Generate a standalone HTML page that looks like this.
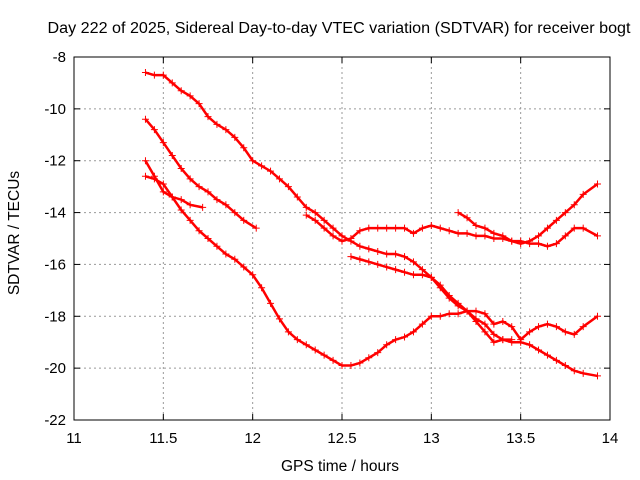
<!DOCTYPE html>
<html><head><meta charset="utf-8"><style>
body{margin:0;background:#fff;}
svg{display:block;font-family:"Liberation Sans",sans-serif;}
</style></head><body>
<svg id="chart" width="640" height="480">
<text x="339" y="33" font-size="15.5" text-anchor="middle" textLength="583" lengthAdjust="spacingAndGlyphs">Day 222 of 2025, Sidereal Day-to-day VTEC variation (SDTVAR) for receiver bogt</text>
<text x="340" y="471" font-size="15.5" text-anchor="middle">GPS time / hours</text>
<text x="19" y="233" font-size="15.5" text-anchor="middle" transform="rotate(-90 19 233)">SDTVAR / TECUs</text>
<g id="grid"></g><g id="axes"></g><g id="marks"></g>
<rect x="74" y="57" width="536" height="363" fill="none" stroke="#000"/>
</svg>
<script>
const xTicks=[11,11.5,12,12.5,13,13.5,14];
const yTicks=[-8,-10,-12,-14,-16,-18,-20,-22];
const traceA=[[11.4,-8.6],[11.45,-8.7],[11.5,-8.7],[11.55,-9.0],[11.6,-9.3],[11.65,-9.5],[11.7,-9.8],[11.75,-10.3],[11.8,-10.6],[11.85,-10.8],[11.9,-11.1],[11.95,-11.5],[12.0,-12.0],[12.05,-12.2],[12.1,-12.4],[12.15,-12.7],[12.2,-13.0],[12.25,-13.4],[12.3,-13.8],[12.35,-14.0],[12.4,-14.3],[12.45,-14.6],[12.5,-14.9],[12.55,-15.1],[12.6,-15.3],[12.65,-15.4],[12.7,-15.5],[12.75,-15.6],[12.8,-15.6],[12.85,-15.7],[12.9,-15.9],[12.95,-16.2],[13.0,-16.5],[13.05,-16.8],[13.1,-17.2],[13.15,-17.5],[13.2,-17.8],[13.25,-18.1],[13.3,-18.3],[13.35,-18.7],[13.4,-18.9],[13.45,-19.0],[13.5,-19.0],[13.55,-19.1],[13.6,-19.3],[13.65,-19.5],[13.7,-19.7],[13.75,-19.9],[13.8,-20.1],[13.85,-20.2],[13.93,-20.3]];
const traceB=[[11.4,-10.4],[11.45,-10.8],[11.5,-11.3],[11.55,-11.8],[11.6,-12.3],[11.65,-12.7],[11.7,-13.0],[11.75,-13.2],[11.8,-13.5],[11.85,-13.7],[11.9,-14.0],[11.95,-14.3],[12.02,-14.6]];
const traceC=[[11.4,-12.0],[11.45,-12.6],[11.5,-13.2],[11.55,-13.4],[11.6,-13.5],[11.65,-13.7],[11.72,-13.8]];
const traceD=[[11.4,-12.6],[11.45,-12.7],[11.5,-12.9],[11.55,-13.4],[11.6,-13.9],[11.65,-14.3],[11.7,-14.7],[11.75,-15.0],[11.8,-15.3],[11.85,-15.6],[11.9,-15.8],[11.95,-16.1],[12.0,-16.4],[12.05,-16.9],[12.1,-17.5],[12.15,-18.1],[12.2,-18.6],[12.25,-18.9],[12.3,-19.1],[12.35,-19.3],[12.4,-19.5],[12.45,-19.7],[12.5,-19.9],[12.55,-19.9],[12.6,-19.8],[12.65,-19.6],[12.7,-19.4],[12.75,-19.1],[12.8,-18.9],[12.85,-18.8],[12.9,-18.6],[12.95,-18.3],[13.0,-18.0],[13.05,-18.0],[13.1,-17.9],[13.15,-17.9],[13.2,-17.8],[13.25,-17.8],[13.3,-17.9],[13.35,-18.3],[13.4,-18.2],[13.45,-18.4],[13.5,-18.9],[13.55,-18.6],[13.6,-18.4],[13.65,-18.3],[13.7,-18.4],[13.75,-18.6],[13.8,-18.7],[13.85,-18.4],[13.93,-18.0]];
const traceE=[[12.3,-14.1],[12.35,-14.3],[12.4,-14.6],[12.45,-14.9],[12.5,-15.1],[12.55,-15.0],[12.6,-14.7],[12.65,-14.6],[12.7,-14.6],[12.75,-14.6],[12.8,-14.6],[12.85,-14.6],[12.9,-14.8],[12.95,-14.6],[13.0,-14.5],[13.05,-14.6],[13.1,-14.7],[13.15,-14.8],[13.2,-14.8],[13.25,-14.9],[13.3,-14.9],[13.35,-15.0],[13.4,-15.0],[13.45,-15.1],[13.5,-15.1],[13.55,-15.2],[13.6,-15.2],[13.65,-15.3],[13.7,-15.2],[13.75,-14.9],[13.8,-14.6],[13.85,-14.6],[13.93,-14.9]];
const traceF=[[13.15,-14.0],[13.2,-14.2],[13.25,-14.5],[13.3,-14.6],[13.35,-14.8],[13.4,-14.9],[13.45,-15.1],[13.5,-15.2],[13.55,-15.1],[13.6,-14.9],[13.65,-14.6],[13.7,-14.3],[13.75,-14.0],[13.8,-13.7],[13.85,-13.3],[13.93,-12.9]];
const traceG=[[12.55,-15.7],[12.6,-15.8],[12.65,-15.9],[12.7,-16.0],[12.75,-16.1],[12.8,-16.2],[12.85,-16.3],[12.9,-16.4],[12.95,-16.4],[13.0,-16.5],[13.05,-16.9],[13.1,-17.3],[13.15,-17.6],[13.2,-17.8],[13.25,-18.2],[13.3,-18.6],[13.35,-19.0],[13.4,-18.9],[13.45,-18.9]];
const series=[traceA,traceB,traceC,traceD,traceE,traceF,traceG];
const NS="http://www.w3.org/2000/svg";
const X=v=>74+(v-11)/3*536, Y=v=>57+(-8-v)/14*363;
function mk(t,a,p){const e=document.createElementNS(NS,t);for(const k in a)e.setAttribute(k,a[k]);p.appendChild(e);return e;}
const grid=document.getElementById('grid'),axes=document.getElementById('axes'),marks=document.getElementById('marks');
xTicks.forEach(t=>{const x=X(t);
 if(t>11&&t<14){const g=mk('line',{x1:x,x2:x,y1:57,y2:420,stroke:'#999','stroke-dasharray':'2,3'},grid);
 
 }
 mk('line',{x1:x,x2:x,y1:420,y2:414,stroke:'#000'},axes);mk('line',{x1:x,x2:x,y1:57,y2:63,stroke:'#000'},axes);
 const l=mk('text',{x:x,y:443,'font-size':15,'text-anchor':'middle'},axes);l.textContent=t;
 
 });
yTicks.forEach(t=>{const y=Y(t);
 if(t<-8&&t>-22){const g=mk('line',{x1:74,x2:610,y1:y,y2:y,stroke:'#999','stroke-dasharray':'2,3'},grid);
 
 }
 mk('line',{x1:74,x2:80,y1:y,y2:y,stroke:'#000'},axes);mk('line',{x1:610,x2:604,y1:y,y2:y,stroke:'#000'},axes);
 const l=mk('text',{x:66,y:y+5,'font-size':15,'text-anchor':'end'},axes);l.textContent=t;
 
 });
series.forEach((s,i)=>{
 const g=mk('g',{},marks);
 
 
 mk('polyline',{points:s.map(p=>X(p[0])+','+Y(p[1])).join(' '),fill:'none',stroke:'#f00','stroke-width':2.5},g);
 s.forEach(p=>{const x=X(p[0]),y=Y(p[1]);
  const m=mk('path',{d:`M${x-3.5},${y}h7M${x},${y-3.5}v7`,stroke:'#f00','stroke-width':1},g);
  
  });
});
</script>
</body></html>
